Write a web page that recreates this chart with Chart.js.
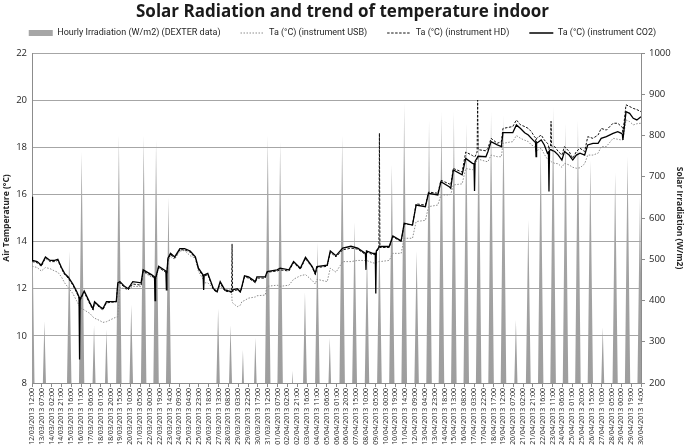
<!DOCTYPE html>
<html>
<head>
<meta charset="utf-8">
<script src="https://cdn.jsdelivr.net/npm/chart.js@4.4.1/dist/chart.umd.min.js"></script>
<style>
  html, body { margin: 0; padding: 0; background: #fff; }
  #wrap { width: 685px; height: 447px; }
</style>
</head>
<body>
<div id="wrap"><canvas id="chart" width="685" height="447"></canvas></div>
<script>
// x axis labels, one every 19 hours starting 12/03/2013 12:00
const xTickLabels = [
    "12/03/2013 12:00", "13/03/2013 07:00", "14/03/2013 02:00", "14/03/2013 21:00", "15/03/2013 16:00",
    "16/03/2013 11:00", "17/03/2013 06:00", "18/03/2013 01:00", "18/03/2013 20:00", "19/03/2013 15:00",
    "20/03/2013 10:00", "21/03/2013 05:00", "22/03/2013 00:00", "22/03/2013 19:00", "23/03/2013 14:00",
    "24/03/2013 09:00", "25/03/2013 04:00", "25/03/2013 23:00", "26/03/2013 18:00", "27/03/2013 13:00",
    "28/03/2013 08:00", "29/03/2013 03:00", "29/03/2013 22:00", "30/03/2013 17:00", "31/03/2013 12:00",
    "01/04/2013 07:00", "02/04/2013 02:00", "02/04/2013 21:00", "03/04/2013 16:00", "04/04/2013 11:00",
    "05/04/2013 06:00", "06/04/2013 01:00", "06/04/2013 20:00", "07/04/2013 15:00", "08/04/2013 10:00",
    "09/04/2013 05:00", "10/04/2013 00:00", "10/04/2013 19:00", "11/04/2013 14:00", "12/04/2013 09:00",
    "13/04/2013 04:00", "13/04/2013 23:00", "14/04/2013 18:00", "15/04/2013 13:00", "16/04/2013 08:00",
    "17/04/2013 03:00", "17/04/2013 22:00", "18/04/2013 17:00", "19/04/2013 12:00", "20/04/2013 07:00",
    "21/04/2013 02:00", "21/04/2013 21:00", "22/04/2013 16:00", "23/04/2013 11:00", "24/04/2013 06:00",
    "25/04/2013 01:00", "25/04/2013 20:00", "26/04/2013 15:00", "27/04/2013 10:00", "28/04/2013 05:00",
    "29/04/2013 00:00", "29/04/2013 19:00", "30/04/2013 14:00"
];
const labelStepHours = 19;
const totalHours = 1178;

// daily noon peak of irradiation (W/m2), 12/03 .. 30/04
const irrPeak = [
    640, 350, 0, 520, 760, 340, 330, 800, 390, 800,
    790, 650, 0, 0, 0, 380, 340, 280, 310, 800,
    785, 230, 420, 540, 310, 800, 590, 520, 560, 730,
    880, 520, 837, 858, 858, 830, 840, 858, 850, 353,
    595, 785, 870, 830, 837, 740, 335, 710, 750, 650
];
const sunHalfSpan = 7; // hours either side of noon with zero irradiation

// temperature readings: hours since start, and values of each instrument
const tempHours = [
    0, 1, 10, 18, 26, 35, 44, 50, 57, 63, 70, 79, 86, 91, 92, 93, 101, 112, 118, 121,
    131, 137, 144, 163, 166, 170, 179, 186, 195, 211, 215, 231, 237, 238, 239, 245, 259, 260, 261, 263,
    268, 276, 286, 295, 306, 316, 322, 331, 332, 333, 340, 351, 358, 364, 373, 386, 387, 388, 397, 403,
    406, 411, 419, 432, 435, 451, 455, 474, 480, 497, 506, 519, 529, 542, 548, 551, 571, 577, 588, 601,
    617, 630, 645, 646, 647, 659, 664, 665, 666, 671, 672, 673, 691, 698, 714, 720, 736, 743, 761, 767,
    785, 791, 807, 810, 815, 832, 839, 852, 855, 856, 857, 861, 862, 863, 878, 882, 888, 900, 908, 911,
    930, 937, 945, 953, 960, 966, 972, 974, 975, 976, 985, 991, 997, 999, 1000, 1001, 1003, 1004, 1005, 1011,
    1018, 1025, 1030, 1039, 1046, 1053, 1060, 1069, 1075, 1085, 1095, 1101, 1111, 1124, 1133, 1140, 1142, 1143, 1149, 1156,
    1163, 1170, 1178
];
const tempCO2 = [
    15.9, 13.2, 13.15, 13.0, 13.35, 13.2, 13.2, 13.25, 12.9, 12.65, 12.5, 12.2, 11.9, 11.65, 9.0, 11.55, 11.9, 11.4, 11.15, 11.45,
    11.25, 11.15, 11.45, 11.45, 12.25, 12.3, 12.1, 12.0, 12.3, 12.25, 12.8, 12.6, 12.5, 11.5, 12.45, 12.95, 12.75, 11.95, 12.7, 13.3,
    13.5, 13.35, 13.7, 13.7, 13.6, 13.35, 12.87, 12.58, 11.95, 12.58, 12.65, 12.0, 11.87, 12.3, 11.95, 11.87, 11.9, 11.95, 12.0, 11.87,
    12.1, 12.55, 12.5, 12.3, 12.5, 12.5, 12.73, 12.8, 12.87, 12.8, 13.15, 12.87, 13.33, 12.94, 12.65, 12.94, 13.0, 13.6, 13.4, 13.72,
    13.8, 13.72, 13.5, 12.8, 13.6, 13.5, 13.5, 11.8, 13.6, 13.75, 13.8, 13.79, 13.79, 14.24, 14.03, 14.78, 14.7, 15.55, 15.48, 16.05,
    15.98, 16.54, 16.33, 16.26, 17.04, 16.83, 17.53, 17.32, 17.3, 16.15, 17.4, 17.55, 17.6, 17.62, 17.6, 17.82, 18.24, 18.1, 18.03, 18.62,
    18.62, 18.95, 18.8, 18.62, 18.52, 18.38, 18.24, 18.2, 17.6, 18.17, 18.31, 18.1, 17.75, 17.8, 16.12, 17.85, 17.9, 17.9, 17.88, 17.82,
    17.67, 17.46, 17.82, 17.67, 17.46, 17.67, 17.75, 17.67, 18.1, 18.17, 18.17, 18.38, 18.45, 18.59, 18.66, 18.59, 18.55, 18.31, 19.51, 19.44,
    19.23, 19.16, 19.3
];
const tempHD = [
    13.15, 13.15, 13.1, 12.95, 13.3, 13.15, 13.15, 13.2, 12.85, 12.6, 12.45, 12.15, 11.85, 11.6, 11.55, 11.5, 11.85, 11.35, 11.1, 11.4,
    11.2, 11.1, 11.4, 11.45, 12.2, 12.25, 12.05, 11.95, 12.2, 12.15, 12.75, 12.55, 12.45, 12.4, 12.4, 12.9, 12.7, 12.65, 12.65, 13.25,
    13.45, 13.3, 13.65, 13.65, 13.55, 13.3, 12.82, 12.53, 12.5, 12.53, 12.6, 11.95, 11.85, 12.25, 11.9, 11.85, 13.9, 11.9, 11.95, 11.85,
    12.05, 12.5, 12.45, 12.25, 12.45, 12.45, 12.7, 12.75, 12.8, 12.75, 13.1, 12.82, 13.28, 12.9, 12.6, 12.9, 12.95, 13.55, 13.35, 13.65,
    13.72, 13.68, 13.45, 13.4, 13.55, 13.45, 13.45, 13.4, 13.55, 13.72, 18.6, 13.75, 13.75, 14.2, 14.0, 14.75, 14.7, 15.6, 15.55, 16.1,
    16.05, 16.6, 16.45, 16.4, 17.1, 16.95, 17.8, 17.65, 17.6, 17.6, 17.6, 17.8, 20.0, 17.9, 17.85, 17.96, 18.38, 18.17, 18.24, 18.8,
    18.88, 19.16, 18.95, 18.88, 18.8, 18.66, 18.45, 18.4, 17.82, 18.38, 18.52, 18.31, 18.17, 18.1, 17.9, 18.0, 18.05, 19.1, 18.05, 18.03,
    17.82, 17.67, 18.03, 17.82, 17.53, 17.82, 17.96, 17.82, 18.45, 18.38, 18.52, 18.8, 18.73, 19.02, 19.02, 18.88, 18.85, 18.59, 19.8, 19.73,
    19.65, 19.6, 19.51
];
const tempUSB = [
    12.95, 12.95, 12.9, 12.75, 12.9, 12.85, 12.75, 12.7, 12.5, 12.25, 12.05, 11.8, 11.5, 11.3, 11.25, 11.2, 11.1, 10.95, 10.8, 10.75,
    10.65, 10.57, 10.6, 10.8, 10.8, 12.05, 12.0, 11.98, 12.1, 12.09, 12.7, 12.5, 12.45, 12.45, 12.45, 12.9, 12.7, 12.65, 12.65, 13.2,
    13.36, 13.25, 13.6, 13.62, 13.4, 13.3, 12.73, 12.4, 12.3, 12.25, 12.25, 12.0, 11.95, 12.1, 11.95, 11.95, 11.5, 11.4, 11.24, 11.3,
    11.45, 11.5, 11.6, 11.65, 11.7, 11.73, 12.1, 12.15, 12.1, 12.15, 12.4, 12.55, 12.6, 12.35, 12.2, 12.4, 12.3, 12.87, 12.7, 13.15,
    13.15, 13.2, 13.2, 13.2, 13.2, 13.1, 13.08, 13.08, 13.1, 13.15, 13.15, 13.15, 13.2, 13.5, 13.5, 14.14, 14.14, 14.85, 14.9, 15.48,
    15.55, 15.98, 15.98, 16.0, 16.4, 16.45, 17.1, 17.05, 17.1, 17.2, 17.3, 17.45, 17.5, 17.5, 17.4, 17.39, 17.67, 17.6, 17.6, 18.17,
    18.24, 18.5, 18.38, 18.3, 18.24, 18.1, 18.03, 18.0, 17.9, 17.85, 17.96, 17.7, 17.5, 17.48, 17.46, 17.45, 17.42, 17.4, 17.38, 17.32,
    17.3, 17.15, 17.32, 17.25, 17.15, 17.11, 17.13, 17.3, 17.67, 17.67, 17.75, 18.03, 18.03, 18.38, 18.34, 18.31, 18.31, 18.31, 19.16, 19.09,
    18.95, 19.0, 19.02
];

const fontFamily = "'Open Sans', 'DejaVu Sans', sans-serif";
const legendFamily = "Roboto, 'Open Sans', sans-serif";
const irrGray = "#a6a6a6";

// spikes: zero at sunrise, peak at noon, zero at sunset
const irrPoints = [];
irrPeak.forEach((peak, day) => {
    const noon = day * 24;
    irrPoints.push({ x: noon - sunHalfSpan, y: 0 });
    irrPoints.push({ x: noon, y: peak });
    irrPoints.push({ x: noon + sunHalfSpan, y: 0 });
});

function tempPoints(values) {
    return tempHours.map((h, i) => ({ x: h, y: values[i] }));
}

// the legend sits a few pixels higher than Chart.js puts it
const legendLift = {
    id: "legendLift",
    afterLayout(chart) {
        chart.legend.top -= 5.5;
        chart.legend.bottom -= 5.5;
    }
};

const ctx = document.getElementById("chart");
new Chart(ctx, {
    type: "line",
    data: {
        datasets: [
            {
                label: "Hourly Irradiation (W/m2) (DEXTER data)",
                data: irrPoints,
                yAxisID: "y1",
                fill: "start",
                borderWidth: 0,
                borderColor: "rgba(0,0,0,0)",
                pointRadius: 0,
                tension: 0,
                order: 10,
                backgroundColor: (c) => {
                    const area = c.chart.chartArea;
                    if (!area) return irrGray;
                    const g = c.chart.ctx.createLinearGradient(0, area.top, 0, area.bottom);
                    g.addColorStop(0, "rgba(166,166,166,0.15)");
                    g.addColorStop(0.2, "rgba(166,166,166,0.7)");
                    g.addColorStop(0.4, "rgba(166,166,166,1)");
                    g.addColorStop(1, "rgba(158,158,158,1)");
                    return g;
                },
                legendFill: irrGray,
                legendStyle: "rect"
            },
            {
                label: "Ta (°C) (instrument USB)",
                data: tempPoints(tempUSB),
                yAxisID: "y",
                borderColor: "#8c8c8c",
                borderWidth: 1,
                borderDash: [1.5, 1.5],
                pointRadius: 0,
                tension: 0,
                fill: false,
                order: 3,
                legendStyle: "line"
            },
            {
                label: "Ta (°C) (instrument HD)",
                data: tempPoints(tempHD),
                yAxisID: "y",
                borderColor: "#111111",
                borderWidth: 1,
                borderDash: [2.5, 1.5],
                pointRadius: 0,
                tension: 0,
                fill: false,
                order: 2,
                legendStyle: "line"
            },
            {
                label: "Ta (°C) (instrument CO2)",
                data: tempPoints(tempCO2),
                yAxisID: "y",
                borderColor: "#000000",
                borderWidth: 1.3,
                pointRadius: 0,
                tension: 0,
                fill: false,
                order: 1,
                legendStyle: "line"
            }
        ]
    },
    options: {
        responsive: false,
        animation: false,
        events: [],
        layout: { padding: 0 },
        plugins: {
            title: {
                display: true,
                text: "Solar Radiation and trend of temperature indoor",
                color: "#1a1a1a",
                font: { family: fontFamily, size: 17, weight: "bold" },
                padding: { top: 2, bottom: -8.4 }
            },
            legend: {
                display: true,
                position: "top",
                labels: {
                    usePointStyle: true,
                    pointStyleWidth: 24,
                    boxHeight: 6,
                    padding: 20,
                    color: "#262626",
                    font: { family: legendFamily, size: 9 },
                    generateLabels(chart) {
                        return chart.data.datasets.map((ds, i) => ({
                            text: ds.label,
                            datasetIndex: i,
                            fillStyle: ds.legendFill || ds.borderColor,
                            strokeStyle: ds.borderColor,
                            lineWidth: ds.legendStyle === "rect" ? 0 : ds.borderWidth,
                            lineDash: ds.borderDash || [],
                            pointStyle: ds.legendStyle,
                            hidden: false,
                            fontColor: "#262626"
                        }));
                    }
                }
            },
            tooltip: { enabled: false }
        },
        scales: {
            x: {
                type: "linear",
                min: 0,
                max: totalHours,
                afterBuildTicks(scale) {
                    scale.ticks = xTickLabels.map((_, i) => ({ value: i * labelStepHours }));
                },
                afterFit(scale) { scale.height = 64; },
                ticks: {
                    autoSkip: false,
                    maxRotation: 90,
                    minRotation: 90,
                    padding: 1,
                    color: "#262626",
                    font: { family: fontFamily, size: 7 },
                    callback: (value, index) => xTickLabels[index]
                },
                grid: { drawOnChartArea: false, drawTicks: true, tickLength: 4, color: "#8c8c8c" },
                border: { display: true, color: "#8c8c8c" }
            },
            y: {
                position: "left",
                min: 8,
                max: 22,
                afterFit(scale) { scale.width = 32; },
                ticks: {
                    stepSize: 2,
                    padding: 5,
                    color: "#262626",
                    font: { family: fontFamily, size: 9.5 }
                },
                grid: { color: "#a6a6a6", lineWidth: 1, drawTicks: false },
                border: { display: true, color: "#8c8c8c" },
                title: {
                    display: true,
                    text: "Air Temperature (°C)",
                    color: "#262626",
                    font: { family: fontFamily, size: 8.5, weight: "bold" },
                    padding: { top: 1, bottom: 0 }
                }
            },
            y1: {
                position: "right",
                min: 200,
                max: 1000,
                afterFit(scale) { scale.width = 44; },
                ticks: {
                    stepSize: 100,
                    padding: 4,
                    color: "#262626",
                    font: { family: fontFamily, size: 9.5 },
                    callback: (value) => String(value)
                },
                grid: { drawOnChartArea: false, drawTicks: true, tickLength: 4, color: "#8c8c8c" },
                border: { display: true, color: "#8c8c8c" },
                title: {
                    display: true,
                    text: "Solar Irradiation (W/m2)",
                    color: "#262626",
                    font: { family: fontFamily, size: 8.5, weight: "bold" },
                    padding: { top: 0, bottom: 1 }
                }
            }
        }
    },
    plugins: [legendLift]
});
</script>
</body>
</html>
